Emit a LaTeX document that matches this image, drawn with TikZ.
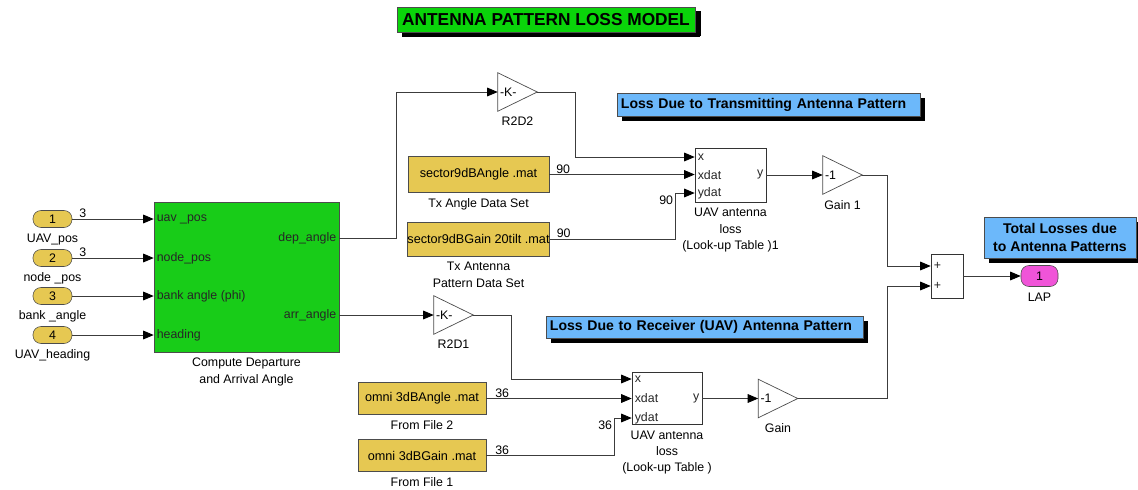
\documentclass[tikz,border=0pt]{standalone}
\usepackage{fontspec}
\setmainfont{Liberation Sans}
\usetikzlibrary{arrows.meta, positioning, shadows}

\definecolor{simgreen}{RGB}{24,204,24}
\definecolor{titlegreen}{RGB}{10,212,10}
\definecolor{fileyellow}{RGB}{230,200,82}
\definecolor{noteblue}{RGB}{108,184,250}
\definecolor{outpink}{RGB}{240,84,216}
\definecolor{wiregray}{RGB}{60,60,60}

\begin{document}
\begin{tikzpicture}[
    x=0.025cm, y=-0.025cm,
    font=\fontsize{8.8}{10.5}\selectfont,
    wire/.style={draw=wiregray, line width=0.6pt},
    sig/.style={wire, -{Triangle[length=7.5pt, width=6.2pt, color=black]}},
    port/.style={inner xsep=2pt, inner ysep=0pt, text=black!85},
    dim/.style={inner sep=0.5pt},
    lbl/.style={inner sep=0.5pt, align=center, label distance=3.5pt, font=\fontsize{8.8}{11.6}\selectfont},
    inport/.style={draw=black!70, fill=fileyellow, rounded corners=0.2cm, minimum width=0.975cm, minimum height=0.425cm, inner sep=0pt},
    outport/.style={draw=black!70, fill=outpink, rounded corners=0.2cm, minimum width=0.925cm, minimum height=0.525cm, inner sep=0pt},
    fileblock/.style={draw=black!70, fill=fileyellow, minimum width=3.525cm, minimum height=0.9cm, inner sep=0pt, font=\fontsize{9}{10}\selectfont},
    omniblock/.style={fileblock, minimum width=3.2cm, minimum height=0.8cm},
    lut/.style={draw=black!80, fill=white, minimum width=1.775cm, minimum height=1.35cm},
    gainblock/.style={minimum width=0.975cm, minimum height=0.95cm, inner xsep=0.05cm, text width=0.875cm, align=left},
    sumblock/.style={draw=black!80, fill=white, minimum width=0.8cm, minimum height=1.1cm},
    note/.style={draw=black!70, fill=noteblue, inner sep=0pt, font=\fontsize{10}{12}\selectfont\bfseries,
        drop shadow={shadow xshift=0.13cm, shadow yshift=-0.12cm, fill=black, opacity=1}}
]
\useasboundingbox (0,0) rectangle (1138,489);

% Title
\node[note, fill=titlegreen, minimum width=7.45cm, minimum height=0.625cm, font=\fontsize{12.3}{14}\selectfont\bfseries,
    drop shadow={shadow xshift=0.15cm, shadow yshift=-0.1cm, fill=black, opacity=1}] (title) at (546,19.5) {ANTENNA PATTERN LOSS MODEL};

% Inports
\node[inport, label={[lbl]below:UAV\_pos}] (in1) at (52.5,219) {1};
\node[inport, label={[lbl]below:node \_pos}] (in2) at (52.5,258) {2};
\node[inport, label={[lbl]below:bank \_angle}] (in3) at (52.5,296) {3};
\node[inport, label={[lbl]below:UAV\_heading}] (in4) at (52.5,335) {4};

% Geometry block
\node[draw=black!70, fill=simgreen, minimum width=4.625cm, minimum height=3.75cm,
    label={[lbl]below:Compute Departure\\and Arrival Angle}] (comp) at (246.5,277) {};
\node[port, anchor=west] at (comp.west |- in1) {uav \_pos};
\node[port, anchor=west] at (comp.west |- in2) {node\_pos};
\node[port, anchor=west] at (comp.west |- in3) {bank angle (phi)};
\node[port, anchor=west] at (comp.west |- in4) {heading};
\coordinate (dep) at (comp.east |- 0,238);
\coordinate (arr) at (comp.east |- 0,315);
\node[port, anchor=east] at (dep) {dep\_angle};
\node[port, anchor=east] at (arr) {arr\_angle};

\foreach \i in {1,...,4}
    \draw[sig] (in\i) -- (comp.west |- in\i);
\node[dim, above right=0pt and 0.15cm of in1.east] {3};
\node[dim, above right=0pt and 0.15cm of in2.east] {3};

% Transmitting side
\node[gainblock, label={[lbl]below:R2D2}] (r2d2) at (517.5,92) {-K-};
\node[fileblock, label={[lbl]below:Tx Angle Data Set}] (file1) at (478.5,174.5) {sector9dBAngle .mat};
\node[fileblock, minimum height=0.85cm, label={[lbl]below:Tx Antenna\\Pattern Data Set}] (file2) at (478.5,239) {sector9dBGain 20tilt .mat};
\node[lut, label={[lbl]below:UAV antenna\\loss\\(Look-up Table )1}] (lut1) at (730.5,175) {};
\node[port, anchor=west] at (lut1.west |- 0,157) {x};
\node[port, anchor=west] at (lut1.west |- 0,175) {xdat};
\node[port, anchor=west] at (lut1.west |- 0,193) {ydat};
\node[port, anchor=east] at (lut1.east) {y};
\node[gainblock, label={[lbl]below:Gain 1}] (gain1) at (842.5,175) {-1};

\node[note, minimum height=0.575cm, text width=7.375cm, inner xsep=0.1cm, align=left] (txnote) at (768.5,104.5) {Loss Due to Transmitting Antenna Pattern};

% Receiving side
\node[gainblock, label={[lbl]below:R2D1}] (r2d1) at (453.5,315) {-K-};
\node[omniblock, label={[lbl]below:From File 2}] (file3) at (422,398.5) {omni 3dBAngle .mat};
\node[omniblock, label={[lbl]below:From File 1}] (file4) at (422,455.5) {omni 3dBGain .mat};
\node[lut, minimum width=1.75cm, minimum height=1.3cm, label={[lbl]below:UAV antenna\\loss\\(Look-up Table )}] (lut2) at (667,398.5) {};
\node[port, anchor=west] at (lut2.west |- 0,379) {x};
\node[port, anchor=west] at (lut2.west |- 0,398.5) {xdat};
\node[port, anchor=west] at (lut2.west |- 0,418) {ydat};
\node[port, anchor=east] at (lut2.east) {y};
\node[gainblock, label={[lbl]below:Gain}] (gain2) at (778,398.5) {-1};

\node[note, minimum height=0.55cm, text width=7.725cm, inner xsep=0.1cm, align=left] (rxnote) at (704.5,327) {Loss Due to Receiver (UAV) Antenna Pattern};

% Sum and output
\node[sumblock] (sum) at (947,276) {};
\node[port, anchor=west] at (sum.west |- 0,266) {+};
\node[port, anchor=west] at (sum.west |- 0,286) {+};
\node[outport, label={[lbl]below:LAP}] (lap) at (1039.5,276) {1};
\node[note, minimum width=3.8cm, minimum height=1.025cm, align=center, font=\fontsize{10}{12.5}\selectfont\bfseries] (totnote) at (1060,237.5) {Total Losses due\\to Antenna Patterns};

% Gain triangles
\foreach \g in {r2d2,r2d1,gain1,gain2}
    \draw[draw=black!70, line width=0.5pt] (\g.north west) -- (\g.east) -- (\g.south west) -- cycle;

% Signal lines (transmit)
\draw[sig] (dep) -- ++(57,0) |- (r2d2);
\draw[sig] (r2d2.east) -- ++(38,0) |- (lut1.west |- 0,157);
\draw[sig] (file1) -- (lut1.west |- file1);
\draw[sig] (file2) -| (675,193) -- (lut1.west |- 0,193);
\draw[sig] (lut1) -- (gain1);
\node[dim, above right=0pt and 0.15cm of file1.east] {90};
\node[dim, above right=0pt and 0.15cm of file2.east] {90};
\node[dim, anchor=north east] at (674,195) {90};

% Signal lines (receive)
\draw[sig] (arr) -- (r2d1);
\draw[sig] (r2d1.east) -- ++(38,0) |- (lut2.west |- 0,379);
\draw[sig] (file3) -- (lut2.west |- file3);
\draw[sig] (file4) -| (614,418) -- (lut2.west |- 0,418);
\draw[sig] (lut2) -- (gain2);
\node[dim, above right=0pt and 0.2cm of file3.east] {36};
\node[dim, above right=0pt and 0.2cm of file4.east] {36};
\node[dim, anchor=north east] at (613,420) {36};

% Total
\draw[sig] (gain1.east) -- ++(25,0) |- (sum.west |- 0,266);
\draw[sig] (gain2.east) -- ++(90,0) |- (sum.west |- 0,286);
\draw[sig] (sum) -- (lap);

\end{tikzpicture}
\end{document}
